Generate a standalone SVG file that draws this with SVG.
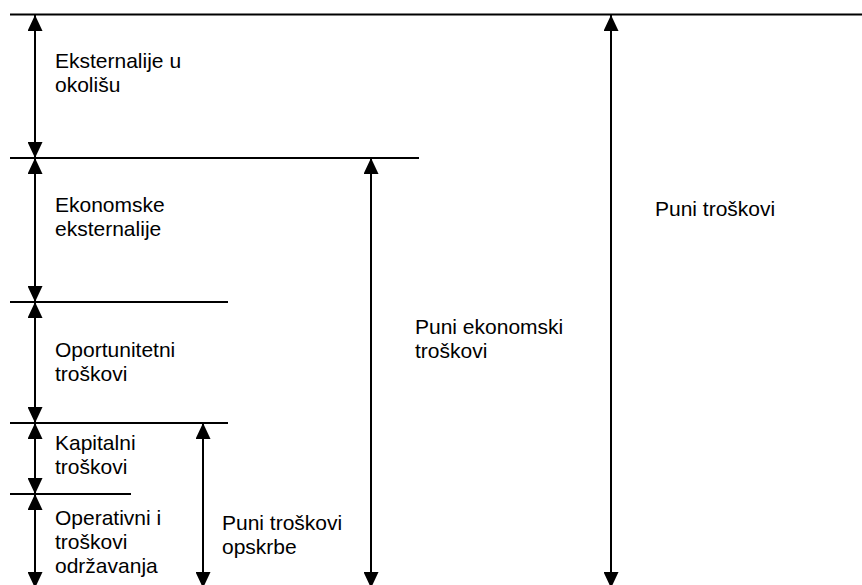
<svg xmlns="http://www.w3.org/2000/svg" width="862" height="585" viewBox="0 0 862 585">
<defs>
<marker id="ah" viewBox="0 0 16 15" refX="16" refY="7.5" markerWidth="16" markerHeight="15" markerUnits="userSpaceOnUse" orient="auto-start-reverse">
<path d="M0,0 L16,7.5 L0,15 Z" fill="#000"/>
</marker>
<style>
.ln{stroke:#000;stroke-width:2;fill:none}
.ar{stroke:#000;stroke-width:2;fill:none;marker-start:url(#ah);marker-end:url(#ah)}
text{font-family:"Liberation Sans",Arial,sans-serif;font-size:21px;fill:#000}
</style>
</defs>
<rect width="862" height="585" fill="#fff"/>
<g id="levels">
<line class="ln" x1="10" y1="14.5" x2="862" y2="14.5"/>
<line class="ln" x1="10" y1="158" x2="419" y2="158"/>
<line class="ln" x1="10" y1="302" x2="228" y2="302"/>
<line class="ln" x1="10" y1="423" x2="228" y2="423"/>
<line class="ln" x1="10" y1="494" x2="131" y2="494"/>
</g>
<g id="connectors">
<line class="ar" x1="35" y1="15" x2="35" y2="158"/>
<line class="ar" x1="35" y1="158" x2="35" y2="302"/>
<line class="ar" x1="35" y1="302" x2="35" y2="423"/>
<line class="ar" x1="35" y1="423" x2="35" y2="494"/>
<line class="ar" x1="35" y1="494" x2="35" y2="588"/>
<line class="ar" x1="203" y1="423" x2="203" y2="588"/>
<line class="ar" x1="371" y1="158" x2="371" y2="588"/>
<line class="ar" x1="611" y1="15" x2="611" y2="588"/>
</g>
<g id="n1"><text x="55" y="68">Eksternalije u</text><text x="55" y="92">okolišu</text></g>
<g id="n2"><text x="55" y="212">Ekonomske</text><text x="55" y="236">eksternalije</text></g>
<g id="n3"><text x="55" y="357">Oportunitetni</text><text x="55" y="381">troškovi</text></g>
<g id="n4"><text x="55" y="450">Kapitalni</text><text x="55" y="474">troškovi</text></g>
<g id="n5"><text x="55" y="525">Operativni i</text><text x="55" y="549">troškovi</text><text x="55" y="573">održavanja</text></g>
<g id="n6"><text x="222" y="530">Puni troškovi</text><text x="222" y="554">opskrbe</text></g>
<g id="n7"><text x="415" y="334">Puni ekonomski</text><text x="415" y="358">troškovi</text></g>
<g id="n8"><text x="655" y="216">Puni troškovi</text></g>
</svg>
